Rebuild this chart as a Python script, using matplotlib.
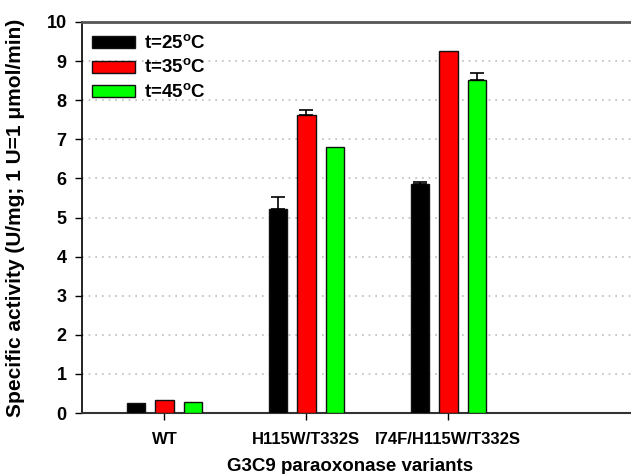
import matplotlib
matplotlib.use("Agg")
import matplotlib.pyplot as plt
import numpy as np

# ── Data ──────────────────────────────────────────────────────────────────────
VARIANTS = ["WT", "H115W/T332S", "I74F/H115W/T332S"]
TEMPS    = ["t=25$^{\\rm o}$C", "t=35$^{\\rm o}$C", "t=45$^{\\rm o}$C"]
ACT_25   = [0.25, 5.22, 5.86]
ACT_35   = [0.33, 7.62, 9.25]
ACT_45   = [0.28, 6.80, 8.52]
ERR_25   = [0.0, 0.30, 0.06]
ERR_35   = [0.0, 0.13, 0.0]
ERR_45   = [0.0, 0.0, 0.17]

COLORS = ["#000000", "#ff0000", "#00ff00"]

plt.rcParams.update({
    "font.family": ["Liberation Sans", "DejaVu Sans"],
    "font.weight": "bold",
    "mathtext.fontset": "custom",
    "mathtext.rm": "Liberation Sans",
})

BAR_WIDTH = 0.13
OFFSET = 0.2
AX_W = 600


def make_figure():
    x = np.arange(len(VARIANTS))
    fig = plt.figure(figsize=(6.31, 4.74), dpi=100)
    # axes run off the right edge like the original crop
    ax = fig.add_axes([82 / 631, 61 / 474, AX_W / 631, 391 / 474])

    series = [ACT_25, ACT_35, ACT_45]
    errs = [ERR_25, ERR_35, ERR_45]
    for i, (vals, err, col, lab) in enumerate(zip(series, errs, COLORS, TEMPS)):
        pos = x + (i - 1) * OFFSET
        ax.bar(pos, vals, BAR_WIDTH, color=col, edgecolor="#111111",
               linewidth=1.0, label=lab, zorder=3)
        e = np.array(err)
        mask = e > 0
        ax.errorbar(pos[mask], np.array(vals)[mask],
                    yerr=[np.zeros(mask.sum()), e[mask]],
                    fmt="none", ecolor="black", elinewidth=1.2,
                    capsize=5, capthick=1.2, zorder=4)

    ax.set_ylim(0, 10)
    ax.set_xlim(-0.58, -0.58 + AX_W / 142)
    ax.set_yticks(range(0, 11))
    ax.set_xticks(x)
    ax.set_xticklabels(VARIANTS, fontsize=12, fontweight="bold")
    ax.tick_params(axis="y", labelsize=13, length=5, width=1, pad=6)
    ax.tick_params(axis="x", length=5, width=1, pad=9)
    for lab in ax.get_yticklabels():
        lab.set_fontweight("bold")

    for yv in range(1, 10):
        ax.axhline(yv, color="#bbbbbb", linestyle=(0, (1, 3)), linewidth=1.2,
                   zorder=1)

    ax.spines["right"].set_visible(False)
    ax.spines["top"].set_color("#555555")
    ax.spines["top"].set_linewidth(2)
    ax.spines["left"].set_linewidth(1.2)
    ax.spines["bottom"].set_linewidth(1.5)
    ax.spines["bottom"].set_color("#333333")

    ax.set_ylabel("Specific activity (U/mg; 1 U=1 \u03bcmol/min)",
                  fontsize=15, fontweight="bold")
    ax.yaxis.set_label_coords(-0.095, 0.5)
    ax.set_xlabel("G3C9 paraoxonase variants", fontsize=13.5,
                  fontweight="bold")
    ax.xaxis.set_label_coords((350 - 82) / AX_W, -0.115)
    ax.xaxis.label.set_va("top")

    ax.legend(loc="upper left", bbox_to_anchor=(-0.012, 1.012), frameon=False,
              handlelength=2.3, handleheight=0.6,
              labelspacing=0.3, handletextpad=0.5,
              prop={"weight": "bold", "size": 13.5})

    fig.savefig("out.png", dpi=100)
    plt.close(fig)


if __name__ == "__main__":
    make_figure()
